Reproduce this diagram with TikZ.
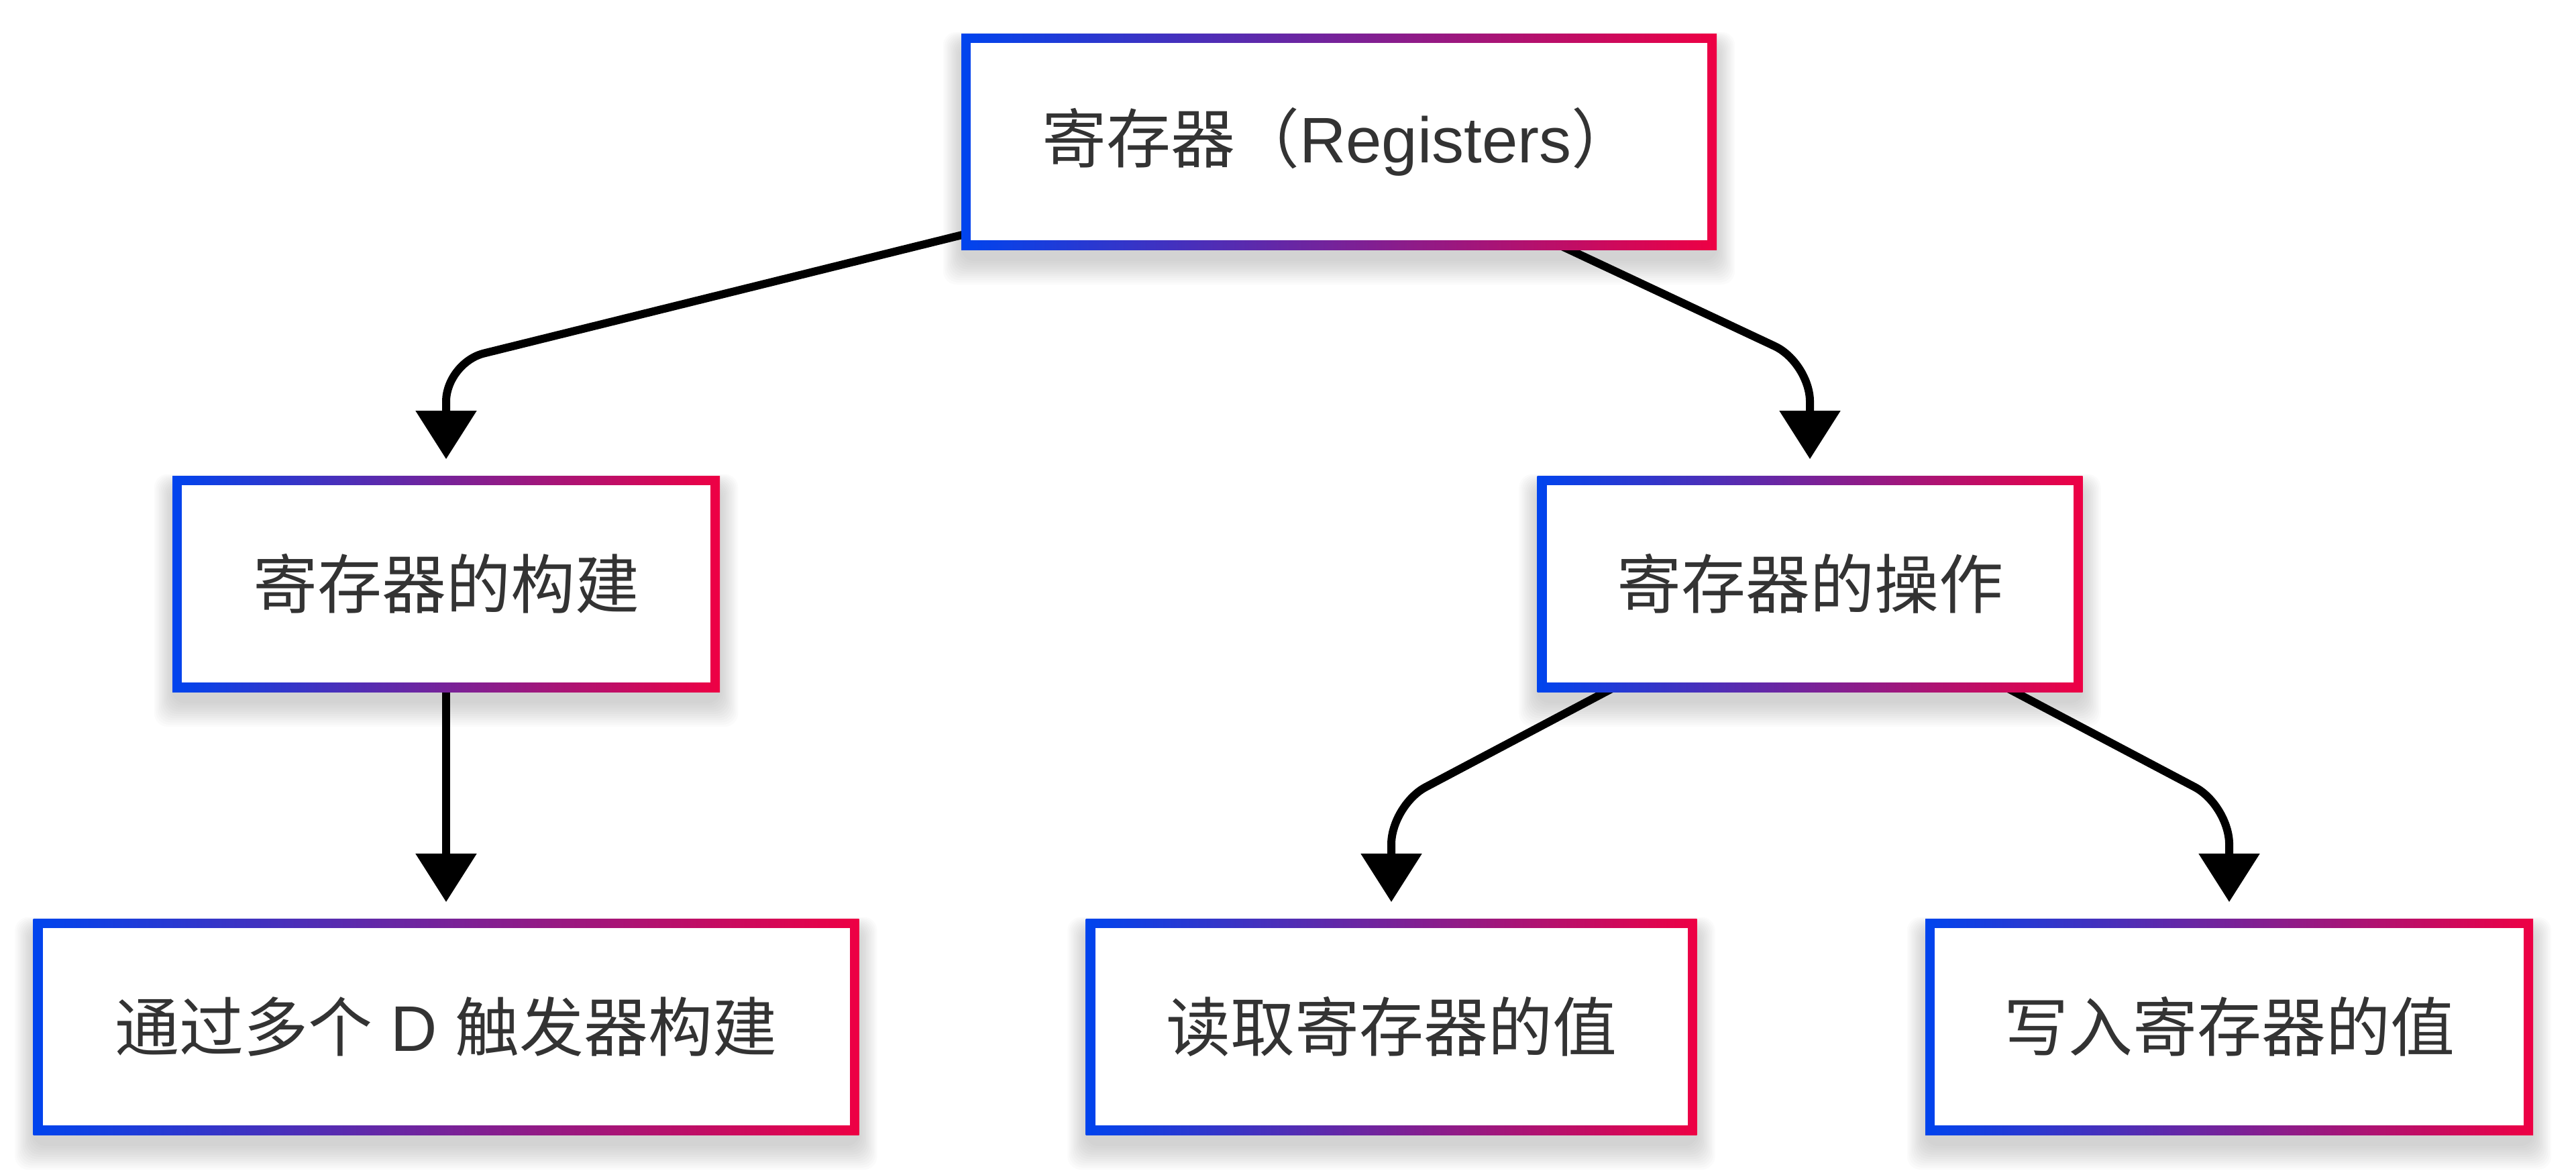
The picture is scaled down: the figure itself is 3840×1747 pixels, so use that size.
\documentclass[tikz,border=0pt]{standalone}
\usepackage{fontspec}
\setmainfont{Liberation Sans}
\newfontfamily\cjk{Noto Sans CJK SC}
\usetikzlibrary{arrows.meta,calc}
\newdimen\upx \upx=0.25pt
\definecolor{gblue}{HTML}{0044EE}
\definecolor{gred}{HTML}{EE0044}
\definecolor{txt}{HTML}{333333}
\pgfdeclarelayer{shadow}
\pgfdeclarelayer{lines}
\pgfsetlayers{shadow,lines,main}

\begin{document}
\begin{tikzpicture}[x=0.25pt,y=-0.25pt,
  gbox/.style={rectangle, inner sep=0pt, minimum height=322\upx,
    left color=gblue, right color=gred, text=txt,
    font=\fontsize{24pt}{29pt}\selectfont,
    path picture={\fill[white]
      ($(path picture bounding box.south west)+(3.5pt,3.5pt)$) rectangle
      ($(path picture bounding box.north east)-(3.5pt,3.5pt)$);}},
  link/.style={line width=3pt, black, rounded corners=14.5pt,
    -{Triangle[width=22pt,length=18pt]}, shorten >=6pt}
]
\useasboundingbox (0,0) rectangle (3840,1747);

% boxes
\node[gbox, minimum width=1126\upx] (top) at (1996,211) {{\cjk 寄存器（}Registers{\cjk ）}};
\node[gbox, minimum width=816\upx]  (ml)  at (665,870)  {\cjk 寄存器的构建};
\node[gbox, minimum width=813\upx]  (mr)  at (2698,870) {\cjk 寄存器的操作};
\node[gbox, minimum width=1231\upx] (b1)  at (665,1530) {{\cjk 通过多个} D {\cjk 触发器构建}};
\node[gbox, minimum width=911\upx]  (b2)  at (2074,1530) {\cjk 读取寄存器的值};
\node[gbox, minimum width=906\upx]  (b3)  at (3323,1530) {\cjk 写入寄存器的值};

% soft drop shadows, mostly below each box
\begin{pgfonlayer}{shadow}
\foreach \n in {top,ml,mr,b1,b2,b3}{
  \foreach \k in {0,...,11}{
    \fill[black, opacity=0.014, rounded corners=5pt]
      ($(\n.south west)+(-\k*0.6pt,-4pt-\k*0.8pt)$) rectangle
      ($(\n.north east)+(\k*0.6pt,-4pt+\k*0.4pt)$);
  }
}
\end{pgfonlayer}

% connectors
\begin{pgfonlayer}{lines}
\coordinate (k1) at ($(top.south)!0.5!(ml.north)$);
\coordinate (k2) at ($(mr.south)!0.5!(b2.north)$);
\draw[link] (top.center) -- (ml |- k1) -- (ml.north);
\draw[link] (top.center) -- (mr |- k1) -- (mr.north);
\draw[link] (ml.center) -- (b1.north);
\draw[link] (mr.center) -- (b2 |- k2) -- (b2.north);
\draw[link] (mr.center) -- (b3 |- k2) -- (b3.north);
\end{pgfonlayer}
\end{tikzpicture}
\end{document}
